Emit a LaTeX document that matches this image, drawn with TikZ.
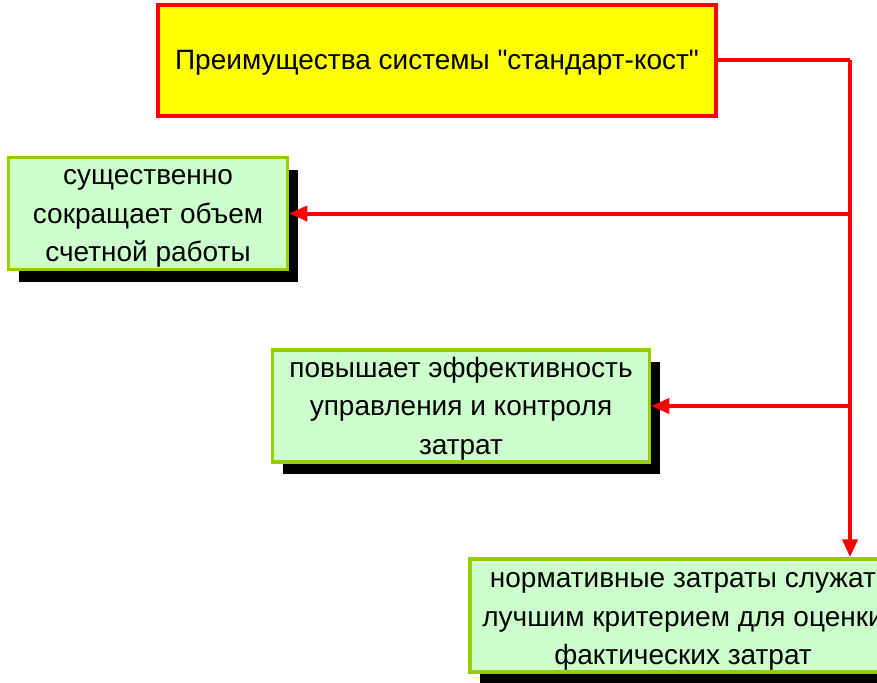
\documentclass[tikz,border=0pt]{standalone}
\usepackage{fontspec}
\setmainfont{Liberation Sans}[Ligatures=TeXOff]
\usetikzlibrary{arrows.meta,shadows}
\definecolor{boxgreen}{HTML}{99CC00}
\definecolor{boxfill}{HTML}{CCFFCC}
\definecolor{headfill}{HTML}{FFFF00}
\begin{document}
\begin{tikzpicture}[x=1pt,y=-1pt]
	\tikzset{
		head/.style={draw=red,fill=headfill,line width=3.5pt,minimum width=558pt,minimum height=111pt},
		item/.style={draw=boxgreen,fill=boxfill,line width=3.5pt,inner sep=0pt,
			drop shadow={shadow xshift=10pt,shadow yshift=-12pt,fill=black,opacity=1}},
		tag/.style={align=center,inner sep=0pt,font=\fontsize{28}{38.5}\selectfont},
		link/.style={red,line width=4pt},
		arr/.style={link,-{Triangle[length=18pt,width=15pt]}}
	}
	\useasboundingbox (0,0) rectangle (877,682);
	\node [head] (adv) at (437,60.5) {};
	\node [tag] (adv-t) at ([yshift=-2pt]adv.center) {Преимущества системы "стандарт-кост"};
	\node [item,minimum width=279pt,minimum height=112pt] (less) at (148,213.5) {};
	\node [tag] (less-t) at ([yshift=-5pt]less.center) {существенно\\сокращает объем\\счетной работы};
	\node [item,minimum width=377pt,minimum height=112pt] (ctrl) at (461,406) {};
	\node [tag] (ctrl-t) at ([yshift=-2.5pt]ctrl.center) {повышает эффективность\\управления и контроля\\затрат};
	\node [item,minimum width=426pt,minimum height=113pt] (norm) at (683,615.5) {};
	\node [tag] (norm-t) at ([yshift=-6pt]norm.center) {нормативные затраты служат\\лучшим критерием для оценки\\фактических затрат};
	\coordinate (turn) at (850,60.5);
	\coordinate (j1) at (850,213.5);
	\coordinate (j2) at (850,406);
	\draw [link] (adv.east) -- (turn);
	\draw [arr] (turn) -- (turn |- norm.north);
	\draw [arr] (j1) -- (less.east);
	\draw [arr] (j2) -- (ctrl.east);
\end{tikzpicture}
\end{document}
